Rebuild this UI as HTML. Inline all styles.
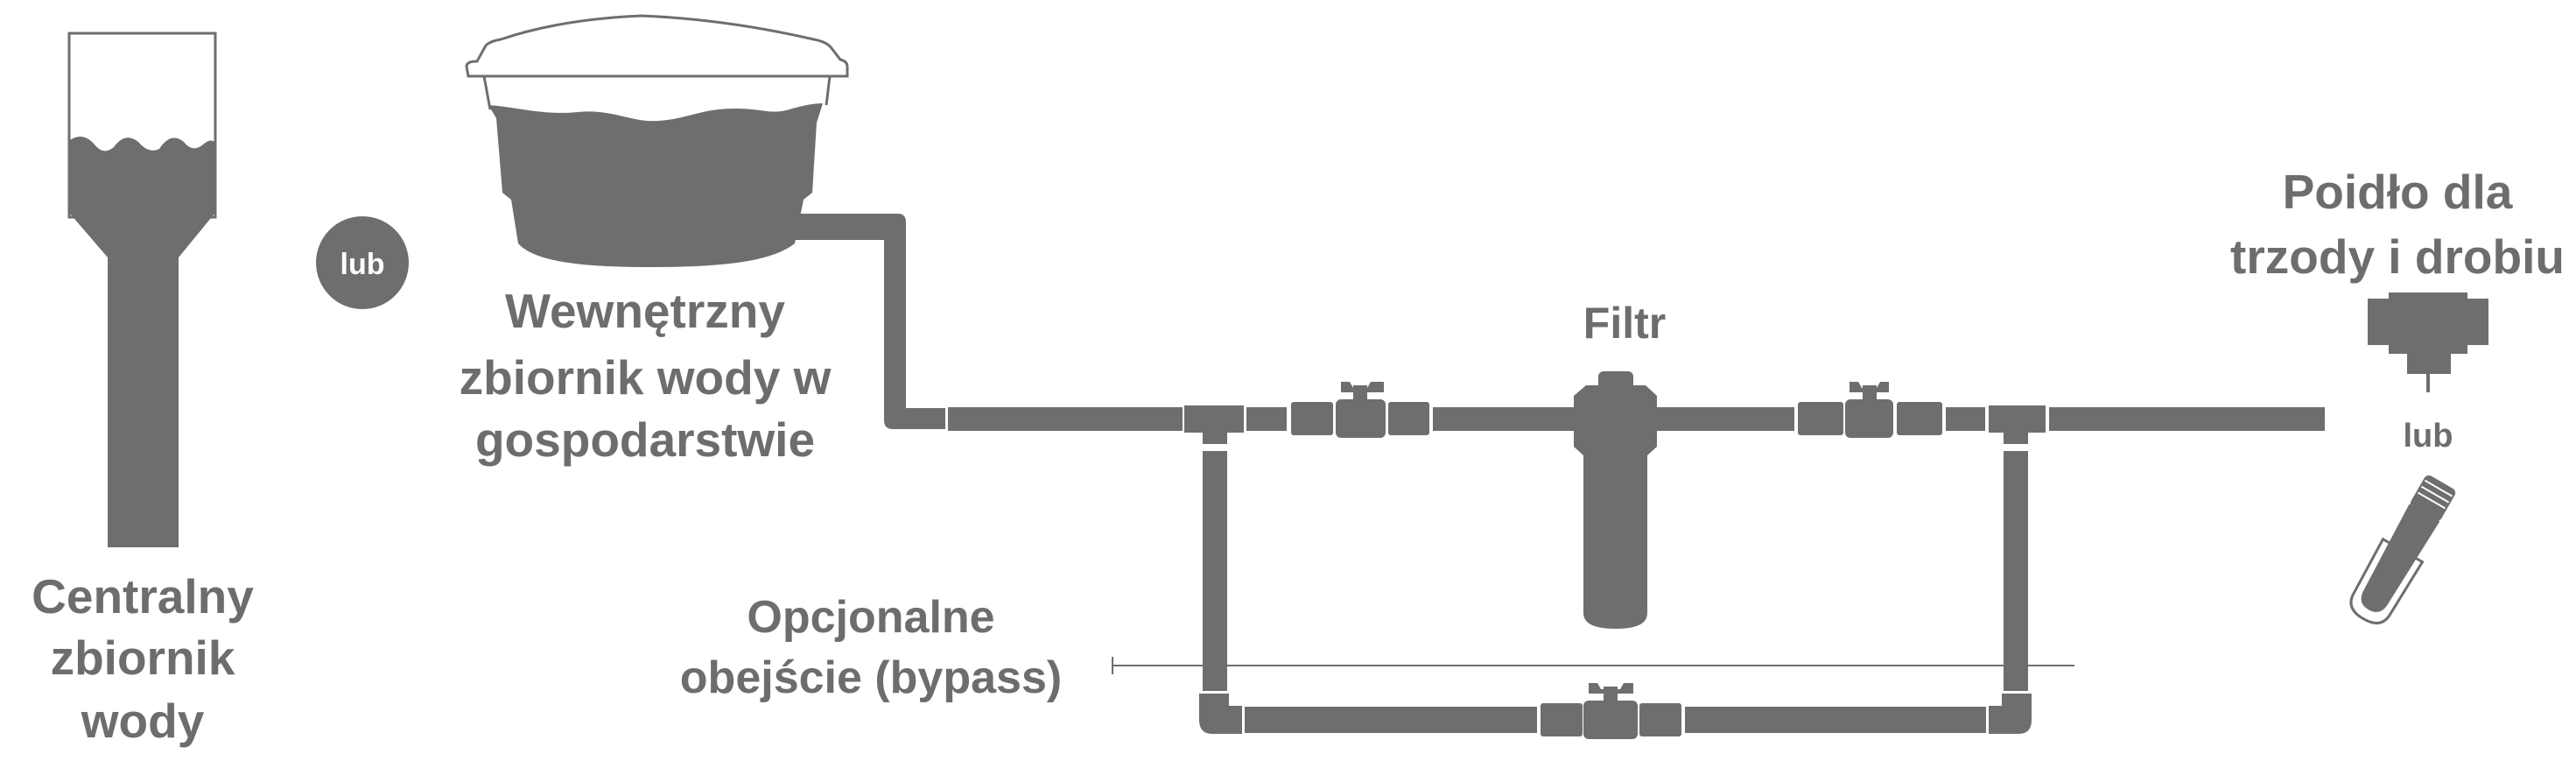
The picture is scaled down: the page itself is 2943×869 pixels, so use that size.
<!DOCTYPE html>
<html><head><meta charset="utf-8"><style>
html,body{margin:0;padding:0;background:#fff;}
svg{display:block;}
text{font-family:"Liberation Sans",sans-serif;font-weight:bold;fill:#6d6d6d;text-anchor:middle;}
</style></head><body>
<svg width="2943" height="869" viewBox="0 0 2943 869" xmlns="http://www.w3.org/2000/svg">
<rect width="2943" height="869" fill="#fff"/>
<g fill="#6e6e6e">
<!-- Central tower -->
<rect x="79" y="38" width="167" height="210" fill="#fff" stroke="#6e6e6e" stroke-width="3"/>
<path d="M80,160 Q95,150 108,165 Q118,178 130,168 Q143,150 158,162 Q170,176 182,170 Q195,150 210,162 Q220,175 232,165 Q240,158 245,162 L245,244 L204,294 L204,625 L123,625 L123,294 L80,244 Z"/>
<!-- lub circle -->
<ellipse cx="414" cy="300" rx="53" ry="53"/>
<!-- Tank lid -->
<path d="M535,87 L533,76 Q533,70 545,70 L555,52 Q560,47 572,45 Q640,22 733,18 Q830,22 930,45 Q945,48 950,55 L960,68 Q968,70 968,76 L968,87 Z" fill="#fff" stroke="#6e6e6e" stroke-width="3"/>
<path d="M553,87 L560,125 M948,87 L944,120" stroke="#6e6e6e" stroke-width="3" fill="none"/>
<path d="M558,120 C590,122 620,132 660,128 C700,124 720,140 752,138 C785,136 800,124 840,124 C875,124 880,132 905,124 C920,120 930,118 940,118 L933,140 L928,220 L918,228 L908,278 C880,300 820,305 740,305 C660,305 610,298 592,278 L584,228 L574,220 L567,135 Z"/>
<!-- outlet pipe -->
<path d="M900,244 L1026,244 Q1035,244 1035,254 L1035,466 L1080,466 L1080,490 L1020,490 Q1010,490 1010,480 L1010,274 L900,274 Z"/>
<!-- main pipe segments -->
<rect x="1083" y="465" width="268" height="27"/>
<rect x="1353" y="463" width="68" height="31"/>
<rect x="1374" y="490" width="28" height="17"/>
<rect x="1424" y="465" width="46" height="27"/>
<rect x="1475" y="459" width="48" height="38" rx="3"/>
<rect x="1526" y="456" width="57" height="44" rx="6"/>
<rect x="1546" y="440" width="16" height="20"/>
<path d="M1532,436 L1542,436 L1546,443 L1562,443 L1566,436 L1581,436 L1581,448 L1532,448 Z"/>
<rect x="1586" y="459" width="47" height="38" rx="3"/>
<rect x="1637" y="465" width="161" height="27"/>
<!-- filter -->
<rect x="1826" y="424" width="40" height="22" rx="6"/>
<path d="M1812,440 L1880,440 L1893,452 L1893,510 L1882,520 L1882,700 Q1882,718 1846,718 Q1809,718 1809,700 L1809,520 L1798,510 L1798,452 Z"/>
<rect x="1893" y="465" width="157" height="27"/>
<rect x="2054" y="459" width="52" height="38" rx="3"/>
<rect x="2108" y="456" width="55" height="44" rx="6"/>
<rect x="2128" y="440" width="16" height="20"/>
<path d="M2113,436 L2123,436 L2127,443 L2144,443 L2148,436 L2158,436 L2158,448 L2113,448 Z"/>
<rect x="2167" y="459" width="52" height="38" rx="3"/>
<rect x="2223" y="465" width="45" height="27"/>
<rect x="2272" y="463" width="65" height="31"/>
<rect x="2289" y="490" width="28" height="17"/>
<rect x="2341" y="465" width="315" height="27"/>
<!-- bypass verticals -->
<rect x="1374" y="515" width="28" height="274"/>
<rect x="2289" y="515" width="28" height="274"/>
<path d="M1370,792 L1404,792 L1404,806 L1419,806 L1419,838 L1385,838 Q1370,838 1370,822 Z"/>
<path d="M2321,792 L2287,792 L2287,806 L2272,806 L2272,838 L2306,838 Q2321,838 2321,822 Z"/>
<rect x="1422" y="807" width="334" height="30"/>
<rect x="1760" y="803" width="48" height="38" rx="3"/>
<rect x="1809" y="800" width="62" height="44" rx="6"/>
<rect x="1832" y="784" width="16" height="20"/>
<path d="M1815,780 L1825,780 L1829,787 L1851,787 L1855,780 L1866,780 L1866,792 L1815,792 Z"/>
<rect x="1873" y="803" width="48" height="38" rx="3"/>
<rect x="1925" y="807" width="344" height="30"/>
<!-- thin line -->
<rect x="1271" y="759" width="1099" height="2"/>
<rect x="1270" y="750" width="2" height="20"/>
<!-- drinker nipple -->
<rect x="2705" y="341" width="24" height="53"/>
<rect x="2729" y="334" width="90" height="70"/>
<rect x="2819" y="341" width="24" height="53"/>
<rect x="2750" y="404" width="50" height="23"/>
<rect x="2772" y="427" width="4" height="21"/>
<!-- nozzle -->
<g transform="translate(2750,620) rotate(30)">
<rect x="-20" y="-80" width="40" height="42" rx="6"/>
<path d="M-18,-72 L18,-72 M-18,-64 L18,-64 M-18,-56 L18,-56" stroke="#fff" stroke-width="2"/>
<path d="M-20,-40 L20,-40 L16,70 Q16,88 0,88 Q-16,88 -16,70 Z"/>
<path d="M-26,10 L26,10 L24,80 Q24,100 0,100 Q-24,100 -24,80 Z" fill="none" stroke="#6e6e6e" stroke-width="3"/>
</g>
</g>
<!-- Texts -->
<text x="414" y="313" font-size="34" style="fill:#fff">lub</text>
<text x="163" y="700" font-size="55">Centralny</text>
<text x="163" y="770" font-size="55">zbiornik</text>
<text x="163" y="842" font-size="55">wody</text>
<text x="737" y="374" font-size="55">Wewnętrzny</text>
<text x="737" y="450" font-size="55">zbiornik wody w</text>
<text x="737" y="521" font-size="55">gospodarstwie</text>
<text x="1856" y="386" font-size="50">Filtr</text>
<text x="995" y="722" font-size="52">Opcjonalne</text>
<text x="995" y="791" font-size="52">obejście (bypass)</text>
<text x="2739" y="238" font-size="55">Poidło dla</text>
<text x="2739" y="312" font-size="55">trzody i drobiu</text>
<text x="2774" y="510" font-size="38">lub</text>
</svg>
</body></html>
